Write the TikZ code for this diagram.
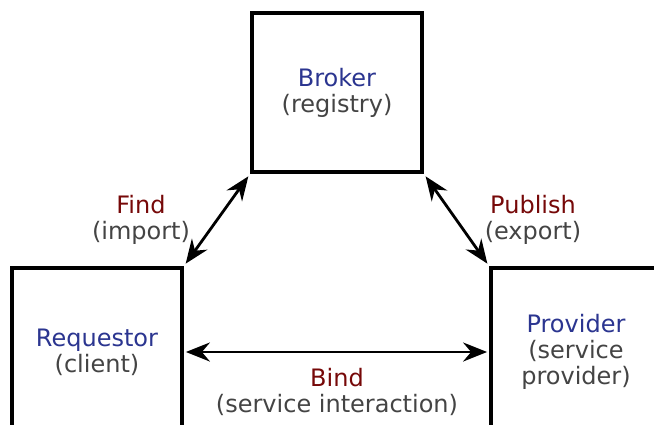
\documentclass[tikz,border=0pt]{standalone}
\usepackage{fontspec}
\setmainfont{DejaVu Sans}
\usepackage{xcolor}
\usetikzlibrary{arrows.meta}
\definecolor{rolename}{HTML}{2B3590}
\definecolor{rolenote}{HTML}{444444}
\definecolor{opname}{HTML}{760808}
\newcommand{\rolefont}{\fontsize{24}{26}\selectfont}

\begin{document}
\begin{tikzpicture}[x=1pt, y=-1pt,
    rolebox/.style={draw=black, line width=3.8pt, fill=white, minimum width=170pt, minimum height=#1, align=center, font=\rolefont, inner sep=0pt},
    oplabel/.style={align=center, font=\rolefont, inner sep=0pt},
    tip/.tip={Stealth[length=24pt, width=19pt, inset=8pt]},
    oparrow/.style={line width=2.8pt, tip-tip}]
        \useasboundingbox (0,0) rectangle (654,424);
        % Las tres cajas de los roles
        \node[rolebox=159pt] (broker) at (337,92.5)
            {\textcolor{rolename}{Broker}\\\textcolor{rolenote}{(registry)}};
        \node[rolebox=168pt] (req) at (97,352)
            {\textcolor{rolename}{Requestor}\\\textcolor{rolenote}{(client)}};
        \node[rolebox=168pt] (prov) at (576,352)
            {\textcolor{rolename}{Provider}\\\textcolor{rolenote}{(service}\\\textcolor{rolenote}{provider)}};
        % Flechas entre roles
        \draw[oparrow, shorten <=3pt, shorten >=3pt] (broker.south west) -- (req.north east);
        \draw[oparrow, shorten <=3pt, shorten >=3pt] (broker.south east) -- (prov.north west);
        \draw[oparrow, shorten <=2pt, shorten >=2pt] (req.east) -- (prov.west);
        % Etiquetas de las operaciones
        \node[oplabel] (find) at (141,219.5)
            {\textcolor{opname}{Find}\\\textcolor{rolenote}{(import)}};
        \node[oplabel] (publish) at (533,219.5)
            {\textcolor{opname}{Publish}\\\textcolor{rolenote}{(export)}};
        \node[oplabel] (bind) at (337,391.5)
            {\textcolor{opname}{Bind}\\\textcolor{rolenote}{(service interaction)}};
    \end{tikzpicture}
\end{document}
